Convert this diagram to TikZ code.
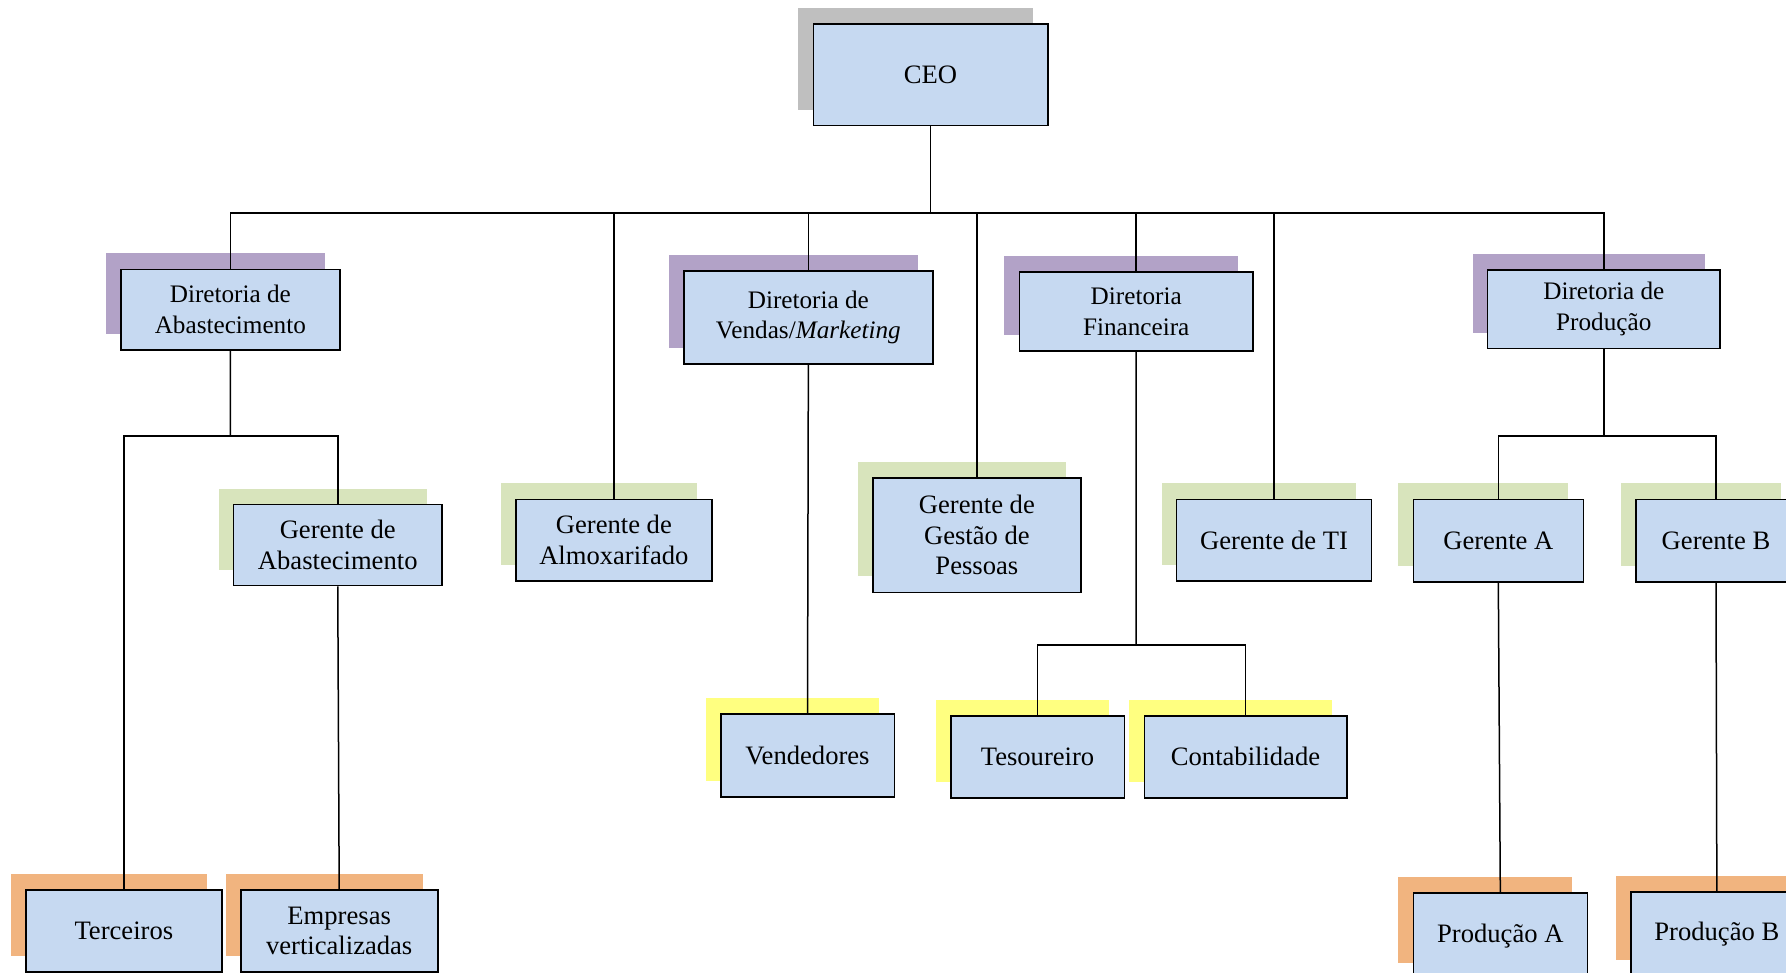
\documentclass[tikz,border=0pt]{standalone}
\usepackage{fontspec}
\setmainfont{Liberation Serif}
\usetikzlibrary{shadows}

\definecolor{boxblue}{HTML}{C6D9F1}
\definecolor{shgray}{HTML}{BFBFBF}
\definecolor{shpurple}{HTML}{B2A2C7}
\definecolor{shgreen}{HTML}{D8E4BC}
\definecolor{shyellow}{HTML}{FFFF80}
\definecolor{shorange}{HTML}{F1B47F}

\newcommand\dirfont{\fontsize{12.6}{15.4}\selectfont}
\newcommand\gerfont{\fontsize{13.3}{15.4}\selectfont}

\tikzset{
  box/.style={draw=black, line width=0.8pt, fill=boxblue, align=center, inner sep=0pt},
  sh/.style={general shadow={fill=#1, shadow xshift=-7.5pt, shadow yshift=8pt}},
  link/.style={line width=0.75pt, black},
}

% box given by its corners in pixel units: name, x1, y1, x2, y2, shadow colour, font, text
\newcommand\orgnode[8]{%
  \pgfmathsetmacro\bw{(#4-#2)*0.5}%
  \pgfmathsetmacro\bh{(#5-#3)*0.5}%
  \node[box, sh=#6, minimum width=\bw pt, minimum height=\bh pt, font=#7]
    (#1) at ({(#2+#4)/2},{(#3+#5)/2}) {#8};}

\begin{document}
\begin{tikzpicture}[x=0.5pt, y=-0.5pt]
\useasboundingbox (0,0) rectangle (1786,973);
\clip (0,0) rectangle (1786,973);

% top
\orgnode{ceo}{813.3}{24}{1047.7}{125.7}{shgray}{\gerfont}{CEO}

% directors
\orgnode{dA}{120.7}{269.3}{340}{350}{shpurple}{\dirfont}{Diretoria de\\Abastecimento}
\orgnode{dV}{684}{271}{932.7}{364}{shpurple}{\dirfont}{Diretoria de\\Vendas/\textit{Marketing}}
\orgnode{dF}{1019.4}{272.2}{1253}{350.8}{shpurple}{\dirfont}{Diretoria\\Financeira}
\orgnode{dP}{1487.6}{270}{1720}{348.5}{shpurple}{\dirfont}{Diretoria de\\Produção}

% managers
\orgnode{gAb}{233.5}{504.6}{442}{585.5}{shgreen}{\gerfont}{Gerente de\\Abastecimento}
\orgnode{gAl}{516}{499.3}{711.7}{581}{shgreen}{\gerfont}{Gerente de\\Almoxarifado}
\orgnode{gGP}{872.7}{477.7}{1081}{592.3}{shgreen}{\gerfont}{Gerente de\\Gestão de\\Pessoas}
\orgnode{gTI}{1176.6}{499.3}{1371.4}{581}{shgreen}{\gerfont}{Gerente de TI}
\orgnode{gA}{1413.3}{499.3}{1583.3}{581.7}{shgreen}{\gerfont}{Gerente A}
\orgnode{gB}{1636}{499.3}{1796}{581.7}{shgreen}{\gerfont}{Gerente B}

% staff
\orgnode{vend}{720.7}{714}{894.3}{796.7}{shyellow}{\gerfont}{Vendedores}
\orgnode{tes}{950.7}{715.7}{1124.3}{797.7}{shyellow}{\gerfont}{Tesoureiro}
\orgnode{cont}{1144.3}{715.7}{1346.7}{797.7}{shyellow}{\gerfont}{Contabilidade}

% bottom row
\orgnode{terc}{26}{890}{221.7}{971.7}{shorange}{\gerfont}{Terceiros}
\orgnode{emp}{240.7}{890}{437.7}{972}{shorange}{\gerfont}{Empresas\\verticalizadas}
\orgnode{pA}{1413.3}{892.7}{1587.3}{979}{shorange}{\gerfont}{Produção A}
\orgnode{pB}{1630.7}{891.7}{1803}{976}{shorange}{\gerfont}{Produção B}

% junction points
\coordinate (bus) at (930.5,213);
\coordinate (jA) at (230.3,436);
\coordinate (jF) at (1136,645);
\coordinate (jP) at (1603.8,436);

% main bus
\draw[link] (ceo.south) -- (bus);
\draw[link] (dA.north) |- (bus) -| (dP.north);
\draw[link] (dV.north) -- (dV.north |- bus);
\draw[link] (dF.north) -- (dF.north |- bus);
\draw[link] (gAl.north) -- (gAl.north |- bus);
\draw[link] (gGP.north) -- (gGP.north |- bus);
\draw[link] (gTI.north) -- (gTI.north |- bus);

% supply branch
\draw[link] (dA.south) -- (jA);
\draw[link] (terc.north) |- (jA) -| (gAb.north);
\draw[link] (gAb.south) -- (emp.north);

% sales branch
\draw[link] (dV.south) -- (vend.north);

% finance branch
\draw[link] (dF.south) -- (jF);
\draw[link] (tes.north) |- (jF) -| (cont.north);

% production branch
\draw[link] (dP.south) -- (jP);
\draw[link] (gA.north) |- (jP) -| (gB.north);
\draw[link] (gA.south) -- (pA.north);
\draw[link] (gB.south) -- (pB.north);
\end{tikzpicture}
\end{document}
